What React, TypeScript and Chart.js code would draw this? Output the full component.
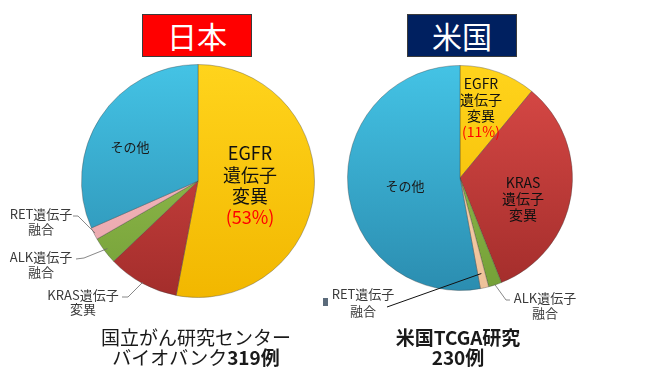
import React, { useEffect, useRef } from "react";
import { Chart, registerables } from "chart.js";

Chart.register(...registerables);

// ---- data ----
const categories = ["EGFR遺伝子変異", "KRAS遺伝子変異", "ALK遺伝子融合", "RET遺伝子融合", "その他"];
const japanValues = [53, 9.9, 3.8, 1.7, 31.6];
const usValues = [11, 33, 1.9, 1.2, 52.9];
const japanTitle = "日本";
const usTitle = "米国";
const japanCaption = ["国立がん研究センター", "バイオバンク", "319例"];
const usCaption = ["米国TCGA研究", "230例"];
const japanPct = "(53%)";
const usPct = "(11%)";

const japanTop = ["#FFD41C", "#DA4A47", "#9DC556", "#F8C2C6", "#44C3E5"];
const japanBottom = ["#F2B700", "#A32D2B", "#74A037", "#E8A3A9", "#2B8DB0"];
const usTop = ["#FFD41C", "#DA4A47", "#9DC556", "#FCD9B6", "#44C3E5"];
const usBottom = ["#F2B700", "#A32D2B", "#74A037", "#EEC199", "#2B8DB0"];

const FONT = '"Noto Sans CJK JP", "Noto Sans", sans-serif';

type Line = { text: string; color?: string };
type Label = {
  lines: Line[];
  x: number;
  ys: number[];
  size: number;
  color: string;
  leader?: { index: number; pts: [number, number][]; r: number; color: string; width: number };
};

function makeBg(tops: string[], bottoms: string[]) {
  return (ctx: any) => {
    const chart = ctx.chart;
    const area = chart.chartArea;
    const i = ctx.dataIndex;
    if (!area) return tops[i];
    const g = chart.ctx.createLinearGradient(0, area.top, 0, area.bottom);
    g.addColorStop(0, tops[i]);
    g.addColorStop(1, bottoms[i]);
    return g;
  };
}

function labelPlugin(labels: Label[], offsetX: number) {
  return {
    id: "sliceLabels",
    afterDraw(chart: any) {
      const ctx = chart.ctx;
      const meta = chart.getDatasetMeta(0);
      ctx.save();
      for (const lb of labels) {
        if (lb.leader) {
          const arc = meta.data[lb.leader.index];
          const p = arc.getProps(["x", "y", "startAngle", "endAngle", "outerRadius"], true);
          const mid = (p.startAngle + p.endAngle) / 2;
          const ex = p.x + Math.cos(mid) * p.outerRadius * lb.leader.r;
          const ey = p.y + Math.sin(mid) * p.outerRadius * lb.leader.r;
          ctx.beginPath();
          ctx.strokeStyle = lb.leader.color;
          ctx.lineWidth = lb.leader.width;
          lb.leader.pts.forEach(([x, y], k) => {
            if (k === 0) ctx.moveTo(x - offsetX, y);
            else ctx.lineTo(x - offsetX, y);
          });
          ctx.lineTo(ex, ey);
          ctx.stroke();
        }
        ctx.font = `${lb.size}px ${FONT}`;
        ctx.textAlign = "center";
        ctx.textBaseline = "middle";
        lb.lines.forEach((ln, k) => {
          ctx.fillStyle = ln.color || lb.color;
          ctx.fillText(ln.text, lb.x - offsetX, lb.ys[k]);
        });
      }
      ctx.restore();
    },
  };
}

const japanLabels: Label[] = [
  { lines: [{ text: "その他" }], x: 130, ys: [147], size: 13, color: "#1a1a1a" },
  {
    lines: [{ text: "EGFR" }, { text: "遺伝子" }, { text: "変異" }, { text: japanPct, color: "#FF0000" }],
    x: 250, ys: [153, 175, 196, 217], size: 18, color: "#111111",
  },
  {
    lines: [{ text: "RET遺伝子" }, { text: "融合" }], x: 41, ys: [214, 229], size: 13, color: "#3a3a3a",
    leader: { index: 3, pts: [[73, 216], [78, 216]], r: 0.99, color: "#6a6a6a", width: 0.8 },
  },
  {
    lines: [{ text: "ALK遺伝子" }, { text: "融合" }], x: 41, ys: [257, 272], size: 13, color: "#3a3a3a",
    leader: { index: 2, pts: [[76, 259], [84, 258]], r: 0.97, color: "#6a6a6a", width: 0.8 },
  },
  {
    lines: [{ text: "KRAS遺伝子" }, { text: "変異" }], x: 83, ys: [295, 309], size: 13, color: "#3a3a3a",
    leader: { index: 1, pts: [[122, 297], [128, 297]], r: 0.99, color: "#6a6a6a", width: 0.8 },
  },
];

const usLabels: Label[] = [
  { lines: [{ text: "その他" }], x: 405, ys: [186], size: 13, color: "#1a1a1a" },
  {
    lines: [{ text: "EGFR" }, { text: "遺伝子" }, { text: "変異" }, { text: usPct, color: "#FF0000" }],
    x: 481, ys: [84, 100, 116, 132], size: 14, color: "#111111",
  },
  {
    lines: [{ text: "KRAS" }, { text: "遺伝子" }, { text: "変異" }],
    x: 523, ys: [183, 199, 215], size: 14, color: "#111111",
  },
  {
    lines: [{ text: "RET遺伝子" }, { text: "融合" }], x: 363, ys: [294, 311], size: 13, color: "#3a3a3a",
    leader: { index: 3, pts: [[387, 307]], r: 0.87, color: "#111111", width: 1 },
  },
  {
    lines: [{ text: "ALK遺伝子" }, { text: "融合" }], x: 545, ys: [298, 313], size: 13, color: "#3a3a3a",
    leader: { index: 2, pts: [[510, 300], [506, 300]], r: 1.0, color: "#6a6a6a", width: 0.8 },
  },
];

function PieCanvas(props: {
  left: number; values: number[]; tops: string[]; bottoms: string[];
  padding: { left: number; top: number; right: number; bottom: number }; labels: Label[];
}) {
  const ref = useRef<HTMLCanvasElement>(null);
  useEffect(() => {
    const chart = new Chart(ref.current as HTMLCanvasElement, {
      type: "pie",
      data: {
        labels: categories,
        datasets: [
          {
            data: props.values,
            backgroundColor: makeBg(props.tops, props.bottoms) as any,
            borderColor: "rgba(60,60,60,0.35)",
            borderWidth: 1,
          },
        ],
      },
      options: {
        animation: false,
        responsive: false,
        devicePixelRatio: 1,
        layout: { padding: props.padding },
        plugins: { legend: { display: false }, tooltip: { enabled: false }, title: { display: false } },
      },
      plugins: [labelPlugin(props.labels, props.left)],
    });
    return () => chart.destroy();
  }, []);
  return (
    <canvas
      ref={ref}
      width={327}
      height={377}
      style={{ position: "absolute", left: props.left, top: 0, width: 327, height: 377 }}
    />
  );
}

export default function App() {
  const titleBox = (left: number, bg: string, text: string) => (
    <div
      style={{
        position: "absolute", left, top: 14, width: 110, height: 43, boxSizing: "border-box",
        background: bg, border: "1.5px solid #3b3b3b", color: "#fff", fontFamily: FONT,
        fontSize: 30, lineHeight: "40px", textAlign: "center", fontWeight: 400,
      }}
    >
      {text}
    </div>
  );
  return (
    <div style={{ position: "fixed", left: 0, top: 0, width: 654, height: 377, background: "#fff", overflow: "hidden" }}>
      {titleBox(142, "#FF0000", japanTitle)}
      {titleBox(407, "#002060", usTitle)}
      <PieCanvas left={0} values={japanValues} tops={japanTop} bottoms={japanBottom}
        padding={{ left: 81, top: 64, right: 12, bottom: 79 }} labels={japanLabels} />
      <PieCanvas left={327} values={usValues} tops={usTop} bottoms={usBottom}
        padding={{ left: 20, top: 65, right: 81, bottom: 86 }} labels={usLabels} />
      <div style={{ position: "absolute", left: 323, top: 298, width: 5, height: 8, background: "#5b6b7b" }} />
      <div
        style={{
          position: "absolute", left: 76, top: 327, width: 240, textAlign: "center", fontFamily: FONT,
          fontSize: 19, lineHeight: "20px", color: "#1a1a1a",
        }}
      >
        <div>{japanCaption[0]}</div>
        <div>{japanCaption[1]}<b>{japanCaption[2]}</b></div>
      </div>
      <div
        style={{
          position: "absolute", left: 338, top: 327, width: 240, textAlign: "center", fontFamily: FONT,
          fontSize: 19, lineHeight: "20px", color: "#1a1a1a", fontWeight: 700,
        }}
      >
        <div>{usCaption[0]}</div>
        <div>{usCaption[1]}</div>
      </div>
    </div>
  );
}
